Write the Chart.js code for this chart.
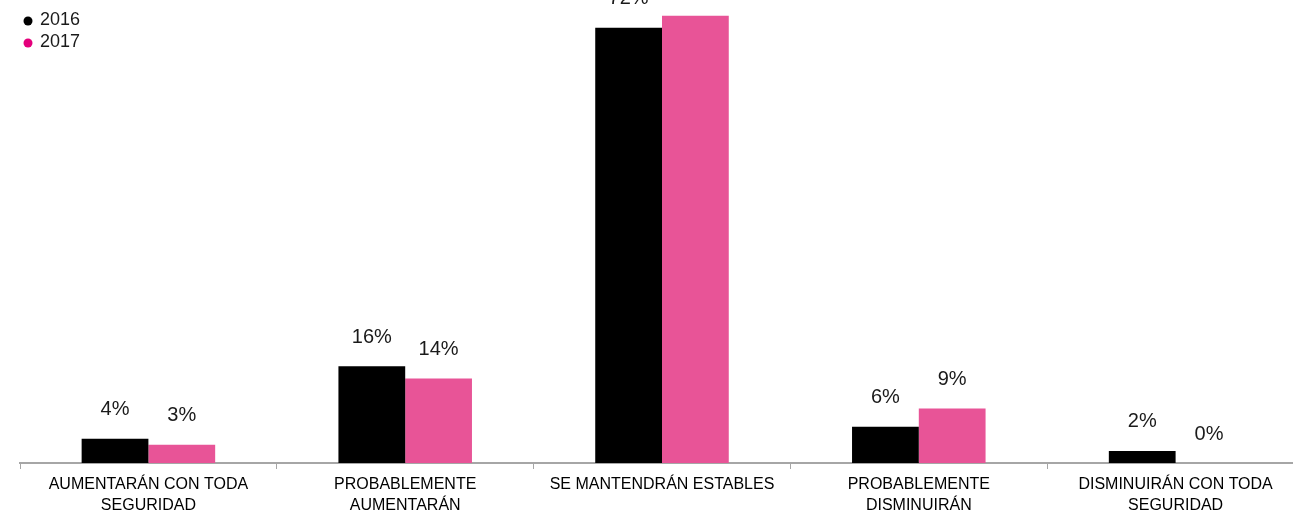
<!DOCTYPE html>
<html>
<head>
<meta charset="utf-8">
<script src="https://cdn.jsdelivr.net/npm/chart.js@4/dist/chart.umd.min.js"></script>
<style>
  html, body { margin: 0; padding: 0; background: #fff; overflow: hidden; }
  #wrap { width: 1304px; height: 512px; }
</style>
</head>
<body>
<div id="wrap"><canvas id="grafico" width="1304" height="512"></canvas></div>
<script>
// ==================== DATOS ====================
const categorias = [
    ['AUMENTARÁN CON TODA', 'SEGURIDAD'],
    ['PROBABLEMENTE', 'AUMENTARÁN'],
    'SE MANTENDRÁN ESTABLES',
    ['PROBABLEMENTE', 'DISMINUIRÁN'],
    ['DISMINUIRÁN CON TODA', 'SEGURIDAD']
];
const valores2016 = [4, 16, 72, 6, 2];
const valores2017 = [3, 14, 74, 9, 0];
const series = ['2016', '2017'];

const FUENTE = '"Liberation Sans", Arial, sans-serif';
const colorBarras = ['#000000', '#E85497'];
const colorLeyenda = ['#000000', '#E4007C'];

// Etiquetas de porcentaje encima de cada barra
const etiquetasValor = {
    id: 'etiquetasValor',
    afterDatasetsDraw(chart) {
        const ctx = chart.ctx;
        ctx.save();
        ctx.font = '20px ' + FUENTE;
        ctx.fillStyle = '#1a1a1a';
        ctx.textAlign = 'center';
        ctx.textBaseline = 'bottom';
        chart.data.datasets.forEach((ds, i) => {
            chart.getDatasetMeta(i).data.forEach((bar, j) => {
                ctx.fillText(ds.data[j] + '%', bar.x, bar.y - 19);
            });
        });
        ctx.restore();
    }
};

// Leyenda vertical en la esquina superior izquierda
const leyendaVertical = {
    id: 'leyendaVertical',
    afterDraw(chart) {
        const ctx = chart.ctx;
        ctx.save();
        ctx.font = '18px ' + FUENTE;
        ctx.textBaseline = 'middle';
        series.forEach((nombre, i) => {
            const y = 20 + i * 22;
            ctx.fillStyle = colorLeyenda[i];
            ctx.beginPath();
            ctx.arc(28, y + 1, 4.5, 0, Math.PI * 2);
            ctx.fill();
            ctx.fillStyle = '#1a1a1a';
            ctx.fillText(nombre, 40, y);
        });
        ctx.restore();
    }
};

new Chart(document.getElementById('grafico'), {
    type: 'bar',
    data: {
        labels: categorias,
        datasets: [
            { label: series[0], data: valores2016, backgroundColor: colorBarras[0] },
            { label: series[1], data: valores2017, backgroundColor: colorBarras[1] }
        ]
    },
    options: {
        responsive: false,
        animation: false,
        layout: { padding: { left: 20, right: 0, top: 0, bottom: 0 } },
        datasets: { bar: { categoryPercentage: 0.52, barPercentage: 1.0 } },
        plugins: {
            legend: { display: false },
            tooltip: { enabled: false }
        },
        scales: {
            x: {
                afterFit(scale) { scale.height = 49; },
                border: { display: true, color: '#a6a6a6', width: 2 },
                grid: { display: true, drawOnChartArea: false, color: '#a6a6a6', tickLength: 6, offset: true },
                ticks: {
                    color: '#000',
                    font: { family: FUENTE, size: 16, lineHeight: 1.3 },
                    padding: 5,
                    maxRotation: 0,
                    autoSkip: false
                }
            },
            y: {
                display: false,
                min: 0,
                max: 76.6
            }
        }
    },
    plugins: [etiquetasValor, leyendaVertical]
});
</script>
</body>
</html>
